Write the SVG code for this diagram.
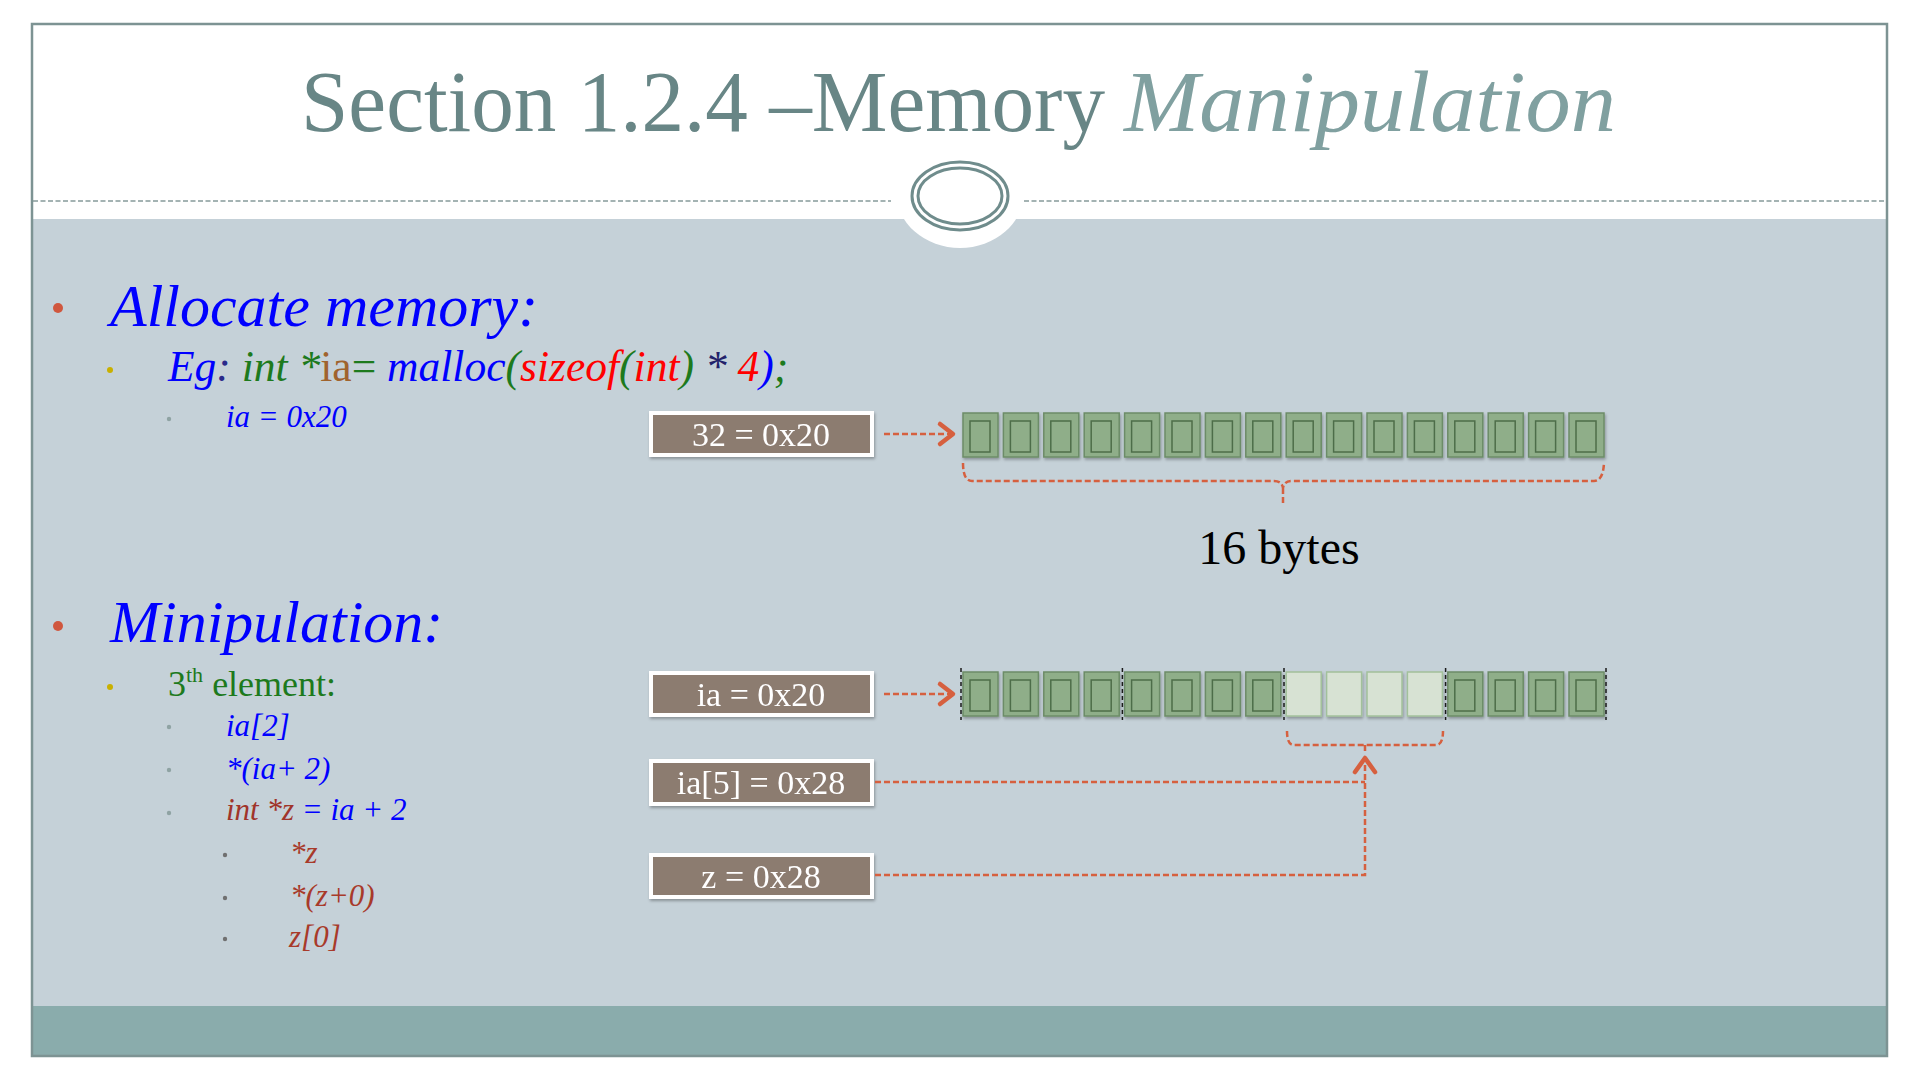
<svg xmlns="http://www.w3.org/2000/svg" width="1920" height="1080" viewBox="0 0 1920 1080">
  <style>
    .serif { font-family: "Liberation Serif", "DejaVu Serif", serif; }
    .it { font-style: italic; }
    .box rect.frame { fill: #8c7b70; stroke: #ffffff; stroke-width: 4; }
    .box text { font-family: "Liberation Serif", "DejaVu Serif", serif; font-size: 34px; fill: #ffffff; text-anchor: middle; }
    .cell { fill: #8fae89; stroke: #6c8c67; stroke-width: 1.5; }
    .glyph { fill: none; stroke: #4e6d4a; stroke-width: 1.5; }
    .cell-hi { fill: #d7e2d3; stroke: #a2c09b; stroke-width: 1.5; }
    .link { fill: none; stroke: #d6603f; stroke-width: 2.5; stroke-dasharray: 6 3; }
    .head { fill: none; stroke: #d6603f; stroke-width: 4.5; stroke-linecap: round; stroke-linejoin: round; }
    .sep { stroke: #1a1a1a; stroke-width: 1.5; stroke-dasharray: 4 3; }
    .b1 { fill: #d0573e; }
    .b2 { fill: #c9b000; }
    .b3 { fill: #8fa3a3; }
    .b4 { fill: #707070; }
  </style>
  <defs>
    <filter id="shadow" x="-10%" y="-20%" width="120%" height="150%">
      <feDropShadow dx="1" dy="2" stdDeviation="1.5" flood-color="#000000" flood-opacity="0.3"/>
    </filter>
    <g id="cellG">
      <rect class="cell" x="0" y="0" width="35" height="44"/>
      <rect class="glyph" x="7" y="8" width="20" height="31"/>
    </g>
    <rect id="cellH" class="cell-hi" x="0" y="0" width="35" height="44"/>
  </defs>

  <!-- page -->
  <rect x="0" y="0" width="1920" height="1080" fill="#ffffff"/>
  <rect x="32" y="219" width="1855" height="787" fill="#c5d1d8"/>
  <rect x="32" y="1006" width="1855" height="50" fill="#8aacac"/>
  <rect x="32" y="24" width="1855" height="1032" fill="none" stroke="#7d9393" stroke-width="2.5"/>

  <!-- header rule and emblem -->
  <ellipse cx="960" cy="192" rx="64" ry="56" fill="#ffffff"/>
  <line x1="33" y1="201" x2="891" y2="201" stroke="#869a9a" stroke-width="1.6" stroke-dasharray="5 2.5"/>
  <line x1="1024" y1="201" x2="1886" y2="201" stroke="#869a9a" stroke-width="1.6" stroke-dasharray="5 2.5"/>
  <ellipse cx="960" cy="196" rx="48" ry="34" fill="none" stroke="#6f8c8c" stroke-width="3"/>
  <ellipse cx="960" cy="196" rx="42" ry="28" fill="none" stroke="#6f8c8c" stroke-width="3"/>

  <!-- title -->
  <g id="title" class="serif" font-size="87">
    <text x="301" y="131" fill="#688686" textLength="804" lengthAdjust="spacingAndGlyphs">Section 1.2.4 –Memory</text>
    <text class="it" x="1124" y="131" fill="#80a0a0" textLength="492" lengthAdjust="spacingAndGlyphs">Manipulation</text>
  </g>

  <!-- bullet text -->
  <g id="text-left" class="serif">
    <circle class="b1" cx="58" cy="308" r="5"/>
    <text class="it" x="110" y="326" font-size="60" fill="#0000ff">Allocate memory:</text>

    <circle class="b2" cx="110" cy="370" r="3"/>
    <text class="it" x="168" y="381" font-size="43.5"><tspan fill="#0000ff">Eg</tspan><tspan fill="#2a2a8a">:</tspan><tspan fill="#1d7a1d"> int *</tspan><tspan fill="#a0632d" font-style="normal">ia</tspan><tspan fill="#1d7a1d" font-style="normal">=</tspan><tspan fill="#0000ff"> malloc</tspan><tspan fill="#1d7a1d">(</tspan><tspan fill="#ff0000">sizeof</tspan><tspan fill="#1d7a1d">(</tspan><tspan fill="#ff0000">int</tspan><tspan fill="#1d7a1d">)</tspan><tspan fill="#22226a"> * </tspan><tspan fill="#ff0000">4</tspan><tspan fill="#0000ff">)</tspan><tspan fill="#1d7a1d">;</tspan></text>

    <circle class="b3" cx="169" cy="419" r="2.2"/>
    <text class="it" x="226" y="427" font-size="31" fill="#0000ff">ia = 0x20</text>

    <circle class="b1" cx="58" cy="626" r="5"/>
    <text class="it" x="110" y="642" font-size="60" fill="#0000ff">Minipulation:</text>

    <circle class="b2" cx="110" cy="687" r="3"/>
    <text x="168" y="696" font-size="36" fill="#1d7a1d">3<tspan font-size="22" dy="-14">th</tspan><tspan dy="14"> element:</tspan></text>

    <circle class="b3" cx="169" cy="727" r="2.2"/>
    <text class="it" x="226" y="736" font-size="31" fill="#0000ff">ia[2]</text>

    <circle class="b3" cx="169" cy="770" r="2.2"/>
    <text class="it" x="226" y="779" font-size="31" fill="#0000ff">*(ia+ 2)</text>

    <circle class="b3" cx="169" cy="813" r="2.2"/>
    <text class="it" x="226" y="820" font-size="31"><tspan fill="#a0342a">int *z</tspan><tspan fill="#0000ff"> = ia + 2</tspan></text>

    <circle class="b4" cx="225" cy="855" r="2.2"/>
    <text class="it" x="290" y="863" font-size="31" fill="#a83a2a">*z</text>

    <circle class="b4" cx="225" cy="898" r="2.2"/>
    <text class="it" x="290" y="906" font-size="31" fill="#a83a2a">*(z+0)</text>

    <circle class="b4" cx="225" cy="939" r="2.2"/>
    <text class="it" x="289" y="947" font-size="31" fill="#a83a2a">z[0]</text>
  </g>

  <!-- address boxes -->
  <g id="box-32" class="box" filter="url(#shadow)">
    <rect class="frame" x="651" y="413" width="221" height="42"/>
    <text x="761" y="446">32 = 0x20</text>
  </g>
  <g id="box-ia" class="box" filter="url(#shadow)">
    <rect class="frame" x="651" y="673" width="221" height="42"/>
    <text x="761" y="706">ia = 0x20</text>
  </g>
  <g id="box-ia5" class="box" filter="url(#shadow)">
    <rect class="frame" x="651" y="761" width="221" height="43"/>
    <text x="761" y="794">ia[5] = 0x28</text>
  </g>
  <g id="box-z" class="box" filter="url(#shadow)">
    <rect class="frame" x="651" y="855" width="221" height="42"/>
    <text x="761" y="888">z = 0x28</text>
  </g>

  <!-- memory row 1: 16 bytes -->
  <g id="memory-1" filter="url(#shadow)">
    <use href="#cellG" x="963" y="413"/>
    <use href="#cellG" x="1003.4" y="413"/>
    <use href="#cellG" x="1043.8" y="413"/>
    <use href="#cellG" x="1084.2" y="413"/>
    <use href="#cellG" x="1124.6" y="413"/>
    <use href="#cellG" x="1165" y="413"/>
    <use href="#cellG" x="1205.4" y="413"/>
    <use href="#cellG" x="1245.8" y="413"/>
    <use href="#cellG" x="1286.2" y="413"/>
    <use href="#cellG" x="1326.6" y="413"/>
    <use href="#cellG" x="1367" y="413"/>
    <use href="#cellG" x="1407.4" y="413"/>
    <use href="#cellG" x="1447.8" y="413"/>
    <use href="#cellG" x="1488.2" y="413"/>
    <use href="#cellG" x="1528.6" y="413"/>
    <use href="#cellG" x="1569" y="413"/>
  </g>
  <text id="label-16" class="serif" x="1279" y="564" font-size="48" fill="#000000" text-anchor="middle">16 bytes</text>

  <!-- memory row 2: four ints, third one highlighted -->
  <g id="memory-2">
    <g filter="url(#shadow)">
      <use href="#cellG" x="963" y="672"/>
      <use href="#cellG" x="1003.4" y="672"/>
      <use href="#cellG" x="1043.8" y="672"/>
      <use href="#cellG" x="1084.2" y="672"/>
      <use href="#cellG" x="1124.6" y="672"/>
      <use href="#cellG" x="1165" y="672"/>
      <use href="#cellG" x="1205.4" y="672"/>
      <use href="#cellG" x="1245.8" y="672"/>
      <use href="#cellH" x="1286.2" y="672"/>
      <use href="#cellH" x="1326.6" y="672"/>
      <use href="#cellH" x="1367" y="672"/>
      <use href="#cellH" x="1407.4" y="672"/>
      <use href="#cellG" x="1447.8" y="672"/>
      <use href="#cellG" x="1488.2" y="672"/>
      <use href="#cellG" x="1528.6" y="672"/>
      <use href="#cellG" x="1569" y="672"/>
    </g>
    <line class="sep" x1="961" y1="668" x2="961" y2="720"/>
    <line class="sep" x1="1122.4" y1="668" x2="1122.4" y2="720"/>
    <line class="sep" x1="1284" y1="668" x2="1284" y2="720"/>
    <line class="sep" x1="1445.6" y1="668" x2="1445.6" y2="720"/>
    <line class="sep" x1="1606" y1="668" x2="1606" y2="720"/>
  </g>

  <!-- connectors -->
  <g id="connectors">
    <line class="link" x1="884" y1="434" x2="950" y2="434"/>
    <polyline class="head" points="940,424 953,434 940,444"/>
    <path class="link" d="M963,463 Q963,481 972,481 L1274,481 Q1282,481 1283,488 Q1284,481 1292,481 L1594,481 Q1603,481 1604,463 M1283,488 L1283,506"/>

    <line class="link" x1="884" y1="694" x2="950" y2="694"/>
    <polyline class="head" points="940,684 953,694 940,704"/>
    <path class="link" d="M1287,731 Q1287,745 1294,745 L1436,745 Q1443,745 1443,731 M1365,745 L1365,752"/>

    <polyline class="link" points="875,782 1365,782"/>
    <polyline class="link" points="875,875 1365,875 1365,760"/>
    <polyline class="head" points="1355,772 1365,758 1375,772"/>
  </g>
</svg>
